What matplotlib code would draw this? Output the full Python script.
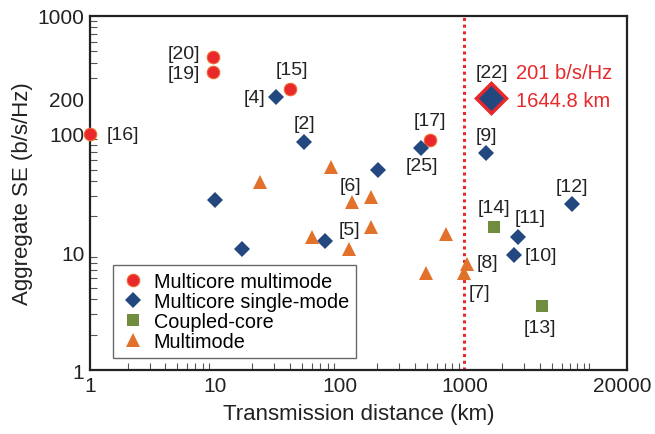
import matplotlib
matplotlib.use("Agg")
import matplotlib.pyplot as plt
from matplotlib.ticker import LogLocator, NullFormatter
from matplotlib.transforms import ScaledTranslation

plt.rcParams['font.family'] = ['Liberation Sans', 'DejaVu Sans']

# data (distance in km, aggregate SE in b/s/Hz)
mcmm_x = [1, 9.7, 9.7, 40, 527]
mcmm_y = [100, 447, 337, 241, 89]
mcmm_lab = ["[16]", "[20]", "[19]", "[15]", "[17]"]

mcsm_x = [30.8, 51.7, 10, 16.6, 76, 204, 447, 1500, 7265, 2686, 2494]
mcsm_y = [205, 86, 27.7, 10.6, 12.5, 49.5, 75.6, 68.6, 25.5, 13.5, 9.4]
mcsm_lab = ["[4]", "[2]", "", "", "", "", "[25]", "[9]", "[12]", "[11]", "[10]"]

cc_x = [1717, 4180]
cc_y = [16.2, 3.5]
cc_lab = ["[14]", "[13]"]

mm_x = [23, 86, 124.5, 177, 177, 59.6, 118.5, 708, 496, 1057, 993]
mm_y = [39.4, 53, 26.4, 29.4, 16.2, 13.3, 10.6, 14.2, 6.6, 7.9, 6.6]
mm_lab = ["", "", "[6]", "", "", "", "[5]", "", "", "[8]", "[7]"]

best_x, best_y = 1644.8, 201

# label offsets in pixels (dx, dy)
offsets = {
    "[16]": (33, -1), "[20]": (-29, 4), "[19]": (-29, -2), "[15]": (2, 19),
    "[17]": (0, 19), "[4]": (-21, 0), "[2]": (1, 18), "[25]": (1, -17),
    "[9]": (0, 18), "[12]": (0, 18), "[11]": (12, 19), "[10]": (27, 0),
    "[14]": (0, 20), "[13]": (-2, -22), "[6]": (-1, 17), "[5]": (1, 20),
    "[8]": (20, 2), "[7]": (15, -19),
}

red = "#e8282b"
blue = "#22487f"
green = "#6f8c3f"
orange = "#e2722b"
dark = "#222222"

fig = plt.figure(figsize=(6.55, 4.35), dpi=100)
ax = fig.add_axes([0.1374, 0.147, 0.8196, 0.814])
ax.set_xscale("log")
ax.set_yscale("log")
ax.set_xlim(1, 20000)
ax.set_ylim(1, 1000)

ax.axvline(1000, color=red, ls=(0, (1, 1.2)), lw=2.2, zorder=1)

ax.plot(mcmm_x, mcmm_y, "o", color=red, mec="#f06a30", ms=9, mew=0.8,
        label="Multicore multimode", clip_on=False, zorder=3)
ax.plot(mcsm_x, mcsm_y, "D", color=blue, ms=8.5, mew=0,
        label="Multicore single-mode", zorder=3)
ax.plot(cc_x, cc_y, "s", color=green, ms=8, mew=0,
        label="Coupled-core", zorder=3)
ax.plot(mm_x, mm_y, "^", color=orange, ms=10, mew=0,
        label="Multimode", zorder=3)
ax.plot([best_x], [best_y], "D", color=blue, mec=red, mew=2.5, ms=15.5, zorder=4)

for xs, ys, labs in [(mcmm_x, mcmm_y, mcmm_lab), (mcsm_x, mcsm_y, mcsm_lab),
                     (cc_x, cc_y, cc_lab), (mm_x, mm_y, mm_lab)]:
    for x, y, lab in zip(xs, ys, labs):
        if lab:
            ax.annotate(lab, (x, y), xytext=offsets[lab], textcoords="offset pixels",
                        ha="center", va="center", fontsize=14, color=dark)

ax.annotate("[22]", (best_x, best_y), xytext=(0, 26), textcoords="offset pixels",
            ha="center", va="center", fontsize=14, color=dark)
ax.annotate("201 b/s/Hz", (best_x, best_y), xytext=(25, 26), textcoords="offset pixels",
            ha="left", va="center", fontsize=14.5, color=red)
ax.annotate("1644.8 km", (best_x, best_y), xytext=(25, -2), textcoords="offset pixels",
            ha="left", va="center", fontsize=14.5, color=red)

ax.set_xticks([1, 10, 100, 1000, 20000])
ax.set_xticklabels(["1", "10", "100", "1000", "20000"])
ax.get_xticklabels()[3].set_color(red)
ax.set_yticks([1, 10, 100, 200, 1000])
ax.set_yticklabels(["1", "10", "100", "200", "1000"])
ax.get_yticklabels()[3].set_color(red)
ax.xaxis.set_minor_locator(LogLocator(base=10, subs=range(1, 10)))
ax.yaxis.set_minor_locator(LogLocator(base=10, subs=range(1, 10)))
ax.xaxis.set_minor_formatter(NullFormatter())
ax.yaxis.set_minor_formatter(NullFormatter())
ax.tick_params(which="major", length=0, labelsize=15, pad=4, colors=dark)
ax.tick_params(which="minor", direction="in", length=5, width=0.8, color="#555555")
for s in ax.spines.values():
    s.set_linewidth(1.6)
    s.set_color(dark)

# last x label sits a little left of the axis end
lastlab = ax.get_xticklabels()[-1]
lastlab.set_transform(lastlab.get_transform() + ScaledTranslation(-0.05, 0, fig.dpi_scale_trans))

ax.set_xlabel("Transmission distance (km)", fontsize=16, color=dark, labelpad=6)
ax.set_ylabel("Aggregate SE (b/s/Hz)", fontsize=16, color=dark, labelpad=3)

leg = ax.legend(loc="lower left", bbox_to_anchor=(0.043, 0.035), fontsize=14.3,
                frameon=True, fancybox=False, edgecolor="#444444", handletextpad=0.4,
                borderpad=0.35, labelspacing=0.05, handlelength=1.3, borderaxespad=0)
leg.get_frame().set_linewidth(1.0)

fig.savefig("out.png", dpi=100)
